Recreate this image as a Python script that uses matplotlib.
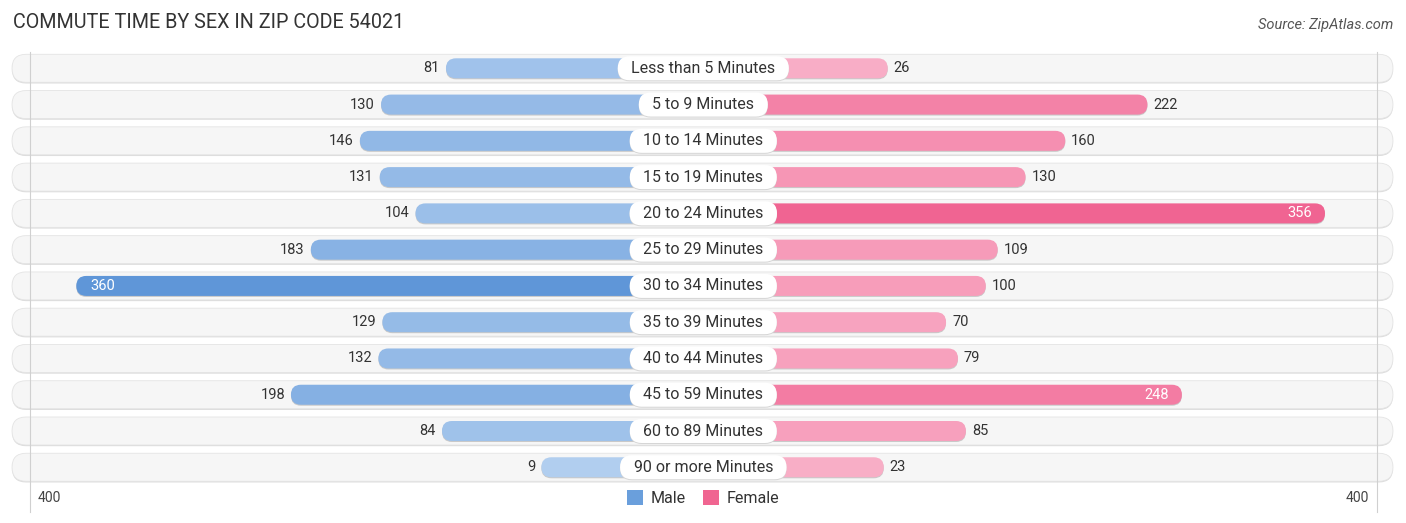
import matplotlib.pyplot as plt
from matplotlib.patches import FancyBboxPatch, Patch
import matplotlib.colors as mcolors
import numpy as np

plt.rcParams['font.family'] = ['Roboto', 'DejaVu Sans']

# data
categories = ['Less than 5 Minutes', '5 to 9 Minutes', '10 to 14 Minutes', '15 to 19 Minutes',
              '20 to 24 Minutes', '25 to 29 Minutes', '30 to 34 Minutes', '35 to 39 Minutes',
              '40 to 44 Minutes', '45 to 59 Minutes', '60 to 89 Minutes', '90 or more Minutes']
male = [81, 130, 146, 131, 104, 183, 360, 129, 132, 198, 84, 9]
female = [26, 222, 160, 130, 356, 109, 100, 70, 79, 248, 85, 23]
axis_label = '400'

W, H = 1406, 523
PX = 1.325          # pixels per unit of value
CENTER = 703.3      # pixel x of the middle
OFF = 150 / PX      # bars start under the label pill
ROW0, STEP = 68.3, 36.27
INSIDE_MIN = 240

fig = plt.figure(figsize=(W / 100, H / 100), dpi=100)
ax = fig.add_axes([0, 0, 1, 1])
ax.set_xlim(-CENTER / PX, (W - CENTER) / PX)
ax.set_ylim(H, 0)
ax.axis('off')


def pill(x0, yc, w, h, **kw):
    # rounded bar, w in value units, h in pixels
    r = h / 2
    p = FancyBboxPatch((x0, yc - h / 2), w, h,
                       boxstyle=f"round,pad=0,rounding_size={r / PX}",
                       mutation_aspect=PX, **kw)
    ax.add_patch(p)
    return p


def shade(c_light, c_dark, v, vmax=360):
    a = np.array(mcolors.to_rgb(c_light))
    b = np.array(mcolors.to_rgb(c_dark))
    f = min(v / vmax, 1)
    return a + (b - a) * f


bg_x0 = (12 - CENTER) / PX
bg_w = (1393 - 12) / PX
grid_x = (CENTER - 30) / PX

for i, cat in enumerate(categories):
    y = ROW0 + i * STEP
    # row background with a soft shadow
    pill(bg_x0, y + 1.2, bg_w, 28, fc='#dcdcdc', ec='none', zorder=1)
    pill(bg_x0, y, bg_w, 28, fc='#f6f6f6', ec='#e4e4e4', lw=0.6, zorder=2)

for gx in (-grid_x, grid_x):
    ax.plot([gx, gx], [52, 512], color='#d0d0d0', lw=0.8, zorder=3)

for i, cat in enumerate(categories):
    y = ROW0 + i * STEP
    m, f = male[i], female[i]
    pill(-(OFF + m), y + 1, OFF + m, 20, fc='#c9c9c9', ec='none', zorder=3)
    pill(-(OFF + m), y, OFF + m, 20, fc=shade('#b3cff0', '#5f96d8', m), ec='none', zorder=4)
    pill(0, y + 1, OFF + f, 20, fc='#c9c9c9', ec='none', zorder=3)
    pill(0, y, OFF + f, 20, fc=shade('#f9b3ca', '#f06391', f), ec='none', zorder=4)

    if m >= INSIDE_MIN:
        ax.text(-(OFF + m) + 14 / PX, y, str(m), ha='left', va='center',
                fontsize=10.5, color='white', zorder=6)
    else:
        ax.text(-(OFF + m) - 6 / PX, y, str(m), ha='right', va='center',
                fontsize=10.5, color='#333333', zorder=6)
    if f >= INSIDE_MIN:
        ax.text(OFF + f - 13 / PX, y, str(f), ha='right', va='center',
                fontsize=10.5, color='white', zorder=6)
    else:
        ax.text(OFF + f + 6 / PX, y, str(f), ha='left', va='center',
                fontsize=10.5, color='#333333', zorder=6)

# category labels on white pills, sized from the rendered text
labels = []
for i, cat in enumerate(categories):
    y = ROW0 + i * STEP
    t = ax.text(0, y, cat, ha='center', va='center', fontsize=11.5,
                color='#333333', zorder=8)
    labels.append((t, y))
fig.canvas.draw()
r = fig.canvas.get_renderer()
for t, y in labels:
    tw = t.get_window_extent(r).width + 27
    pill(-tw / 2 / PX, y + 1, tw / PX, 24, fc='#d6d6d6', ec='none', zorder=6)
    pill(-tw / 2 / PX, y, tw / PX, 24, fc='white', ec='none', zorder=7)

ax.text(-grid_x + 8 / PX, 498, axis_label, ha='left', va='center', fontsize=10, color='#444444')
ax.text(grid_x - 8 / PX, 498, axis_label, ha='right', va='center', fontsize=10, color='#444444')

handles = [Patch(fc='#6a9fdc', ec='none', label='Male'),
           Patch(fc='#f06591', ec='none', label='Female')]
ax.legend(handles=handles, loc='center', bbox_to_anchor=(0.5, 1 - 498 / H), ncol=2,
          frameon=False, fontsize=11.5, handlelength=1.0, handleheight=1.1,
          handletextpad=0.45, columnspacing=1.1, labelcolor='#333333')

fig.text(13 / W, 1 - 22 / H, 'COMMUTE TIME BY SEX IN ZIP CODE 54021', ha='left', va='center',
         fontsize=14.2, color='#333333')
fig.text(1393 / W, 1 - 25 / H, 'Source: ZipAtlas.com', ha='right', va='center',
         fontsize=10.5, color='#555555', style='italic')

fig.savefig('out.png', dpi=100)
